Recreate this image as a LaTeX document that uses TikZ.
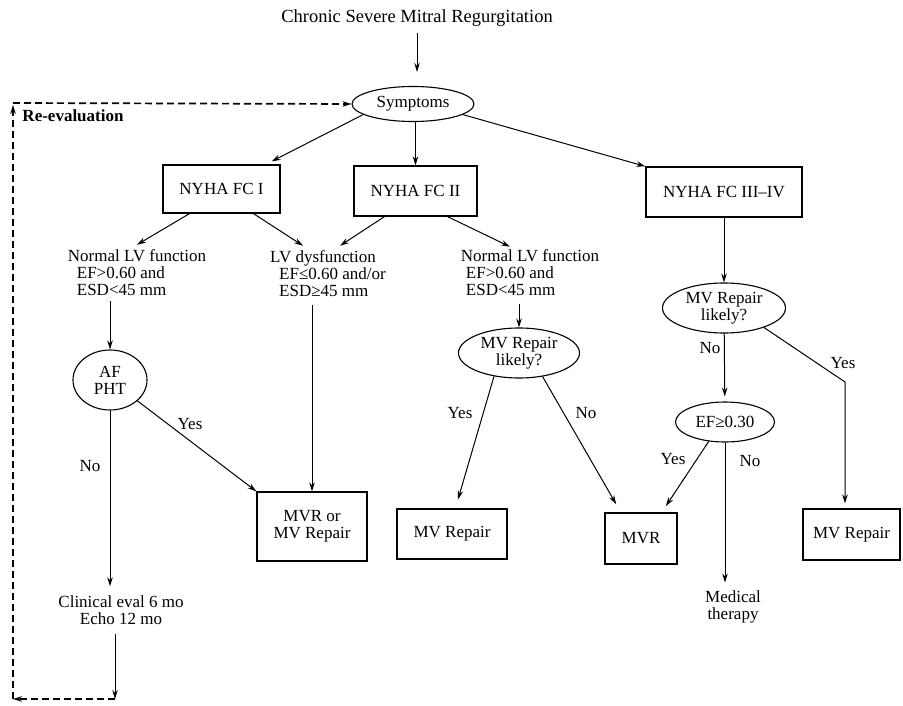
\documentclass[tikz,border=0pt]{standalone}
\usepackage{fontspec}
\setmainfont{Liberation Serif}
\usetikzlibrary{shapes.geometric,arrows.meta}

\begin{document}
\begin{tikzpicture}[x=1pt,y=-1pt,
    every node/.style={inner sep=0pt,font=\fontsize{17}{17}\selectfont},
    box/.style={draw,line width=1.2pt,align=center},
    oval/.style={ellipse,draw,line width=1.1pt,align=center},
    arr/.style={-{Stealth[length=9pt,width=5.5pt]},line width=1pt},
    back/.style={-{Stealth[length=9pt,width=5.5pt]},line width=1.7pt,dash pattern=on 7pt off 4pt}]
    \useasboundingbox (0,0) rectangle (903,706);
    \node (T) at (417,18) {\fontsize{18.5}{19}\selectfont Chronic Severe Mitral Regurgitation};
    \node[oval,minimum width=122pt,minimum height=35pt] (S) at (413,104) {Symptoms};
    \node (RE) at (73,116) {\textbf{Re-evaluation}};
    \node[box,minimum width=117pt,minimum height=48pt] (F1) at (221.5,189) {NYHA FC I};
    \node[box,minimum width=123pt,minimum height=50pt] (F2) at (415.5,191) {NYHA FC II};
    \node[box,minimum width=156pt,minimum height=50pt] (F3) at (724,192) {NYHA FC III--IV};
    \node[align=left] (N1) at (137,273) {Normal LV function\\\hspace*{9pt}EF>0.60 and\\\hspace*{9pt}ESD<45 mm};
    \node[align=left] (D) at (328,274) {LV dysfunction\\\hspace*{9pt}EF≤0.60 and/or\\\hspace*{9pt}ESD≥45 mm};
    \node[align=left] (N2) at (530,273) {Normal LV function\\\hspace*{5pt}EF>0.60 and\\\hspace*{5pt}ESD<45 mm};
    \node[oval,minimum width=74pt,minimum height=60pt] (A) at (110,380) {AF\\PHT};
    \node[oval,minimum width=121pt,minimum height=50pt] (R1) at (519,353) {MV Repair\\likely?};
    \node[oval,minimum width=123pt,minimum height=50pt] (R2) at (724,308) {MV Repair\\likely?};
    \node[oval,minimum width=99pt,minimum height=40pt] (E) at (725,422) {EF≥0.30};
    \node[box,minimum width=110pt,minimum height=69pt] (M1) at (312,526.5) {MVR or\\MV Repair};
    \node[box,minimum width=110pt,minimum height=50pt] (M2) at (452,534) {MV Repair};
    \node[box,line width=1.7pt,minimum width=72pt,minimum height=51pt] (M3) at (641,538.5) {MVR};
    \node[box,minimum width=97pt,minimum height=51pt] (M4) at (851.5,534.5) {MV Repair};
    \node[align=center] (C) at (121,610) {Clinical eval 6 mo\\Echo 12 mo};
    \node[align=center] (Th) at (733,607) {Medical\\therapy};
    \node (Y1) at (190,424) {Yes};
    \node (X1) at (90,466) {No};
    \node (Y2) at (460,413) {Yes};
    \node (X2) at (586,413) {No};
    \node (X3) at (710,348) {No};
    \node (Y3) at (843,363) {Yes};
    \node (Y4) at (673,459) {Yes};
    \node (X4) at (750,461) {No};
    \coordinate (K) at (845,382);
    \coordinate (B) at (115,699);
    \coordinate (L) at (13,699);
    \coordinate (U) at (13,103);
    \draw[arr,shorten <=6pt,shorten >=14pt] (T.south) -- (T.south |- S.north);
    \draw[arr] (S.-168) -- ([xshift=-9pt,yshift=3pt]F1.north east);
    \draw[arr] (S.south -| F2.north) -- (F2.north);
    \draw[arr] (S.-12) -- (F3.north west);
    \draw[arr] ([xshift=-32pt]F1.south) -- ([yshift=5pt]N1.north);
    \draw[arr] ([xshift=32pt]F1.south) -- ([xshift=-25pt,yshift=5pt]D.north);
    \draw[arr] ([xshift=-31pt]F2.south) -- ([xshift=12pt,yshift=5pt]D.north);
    \draw[arr] ([xshift=32pt]F2.south) -- ([xshift=-20pt,yshift=3pt]N2.north);
    \draw[arr] (F3) -- (R2);
    \draw[arr,shorten <=5pt] (N1.south -| A.north) -- (A.north);
    \draw[arr,shorten >=9pt] (A) -- (A.south |- C.north);
    \draw[arr] (A) -- (M1.north west);
    \draw[arr,shorten <=8pt] (D.south -| M1.north) -- (M1.north);
    \draw[arr,shorten <=8pt] (N2.south -| R1.north) -- (R1.north);
    \draw[arr] (R1.-137) -- ([xshift=6pt,yshift=9pt]M2.north);
    \draw[arr] (R1.-45) -- ([xshift=12pt,yshift=8pt]M3.north west);
    \draw[arr,shorten >=5pt] (R2) -- (E);
    \draw[arr,shorten >=5pt] (R2.-26) -- (K) -- (K |- M4.north);
    \draw[arr] (E.-130) -- ([xshift=-12pt,yshift=6pt]M3.north east);
    \draw[arr,shorten >=8pt] (E.south) -- (E.south |- Th.north);
    \draw[arr,shorten <=9pt] (C.south -| B) -- (B);
    \draw[back] (B) -- (L);
    \draw[back,shorten >=2pt] (L) -- (U);
    \draw[back] (U) -- (S.west);
\end{tikzpicture}
\end{document}
